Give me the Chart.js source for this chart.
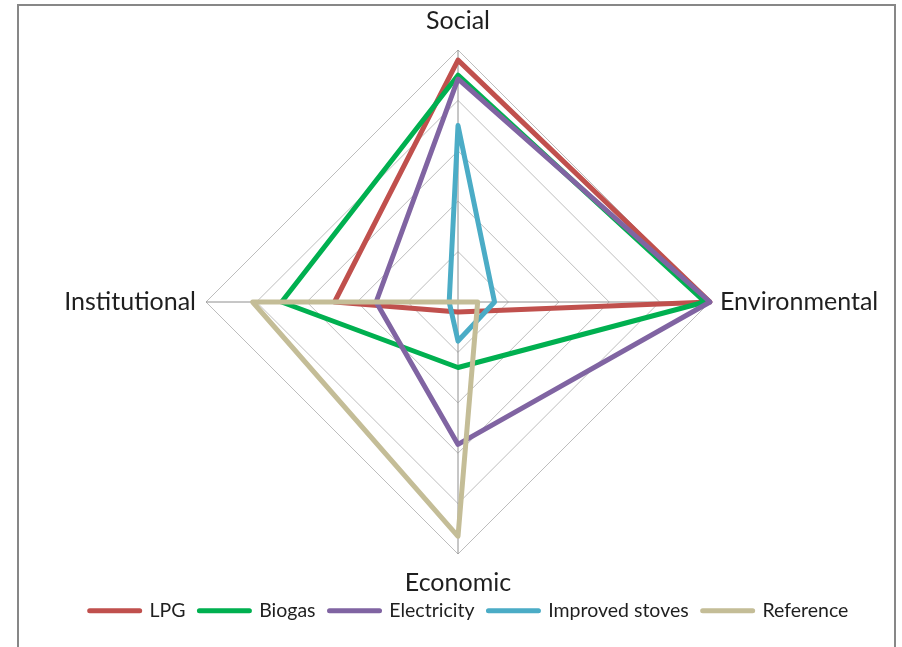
<!DOCTYPE html>
<html>
<head>
<meta charset="utf-8">
<script src="https://cdn.jsdelivr.net/npm/chart.js@4"></script>
<style>
	html, body { margin: 0; padding: 0; background: #fff; overflow: hidden; }
	#frame {
		position: absolute; left: 17px; top: 4px;
		width: 875px; height: 700px;
		border: 2px solid #878787;
	}
	#graph { position: absolute; left: 0; top: 0; }
</style>
</head>
<body>
<div id="frame"></div>
<canvas id="graph" width="902" height="647"></canvas>
<script>
// axes, clockwise from the top
const categories = ["Social", "Environmental", "Economic", "Institutional"];

const lpg = [0.96, 1.0, 0.04, 0.49];
const biogas = [0.90, 0.98, 0.26, 0.70];
const electricity = [0.885, 1.0, 0.565, 0.325];
const improvedStoves = [0.70, 0.145, 0.155, 0.035];
const reference = [0, 0.078, 0.93, 0.815];

const seriesNames = ["LPG", "Biogas", "Electricity", "Improved stoves", "Reference"];
const seriesData = [lpg, biogas, electricity, improvedStoves, reference];
const seriesColors = ["#C0504D", "#00B050", "#8064A2", "#4BACC6", "#C4BD97"];

new Chart(document.getElementById("graph"), {
	type: "radar",
	data: {
		labels: categories,
		datasets: seriesNames.map((name, i) => ({
			label: name,
			data: seriesData[i],
			borderColor: seriesColors[i],
			backgroundColor: seriesColors[i],
			borderWidth: 5,
			borderJoinStyle: "round",
			borderCapStyle: "round",
			pointRadius: 0,
			pointHoverRadius: 0,
			fill: false,
			// later series are drawn on top, as in the original
			order: seriesNames.length - i,
		})),
	},
	options: {
		responsive: false,
		animation: false,
		layout: {
			padding: { left: 36, right: 0, top: 17, bottom: 16.5 },
		},
		scales: {
			r: {
				min: 0,
				max: 1,
				ticks: { display: false, stepSize: 0.2 },
				grid: { color: "#bdbdbd", lineWidth: 1 },
				angleLines: { color: "#8e8e8e", lineWidth: 1 },
				pointLabels: {
					color: "#1f1f1f",
					font: { family: "Lato", size: 25, lineHeight: "8px" },
					padding: (ctx) => (ctx.index % 2 ? 10 : 25),
				},
			},
		},
		plugins: {
			tooltip: { enabled: false },
			legend: {
				position: "bottom",
				labels: {
					sort: (a, b) => a.datasetIndex - b.datasetIndex,
					boxWidth: 50,
					boxHeight: 0,
					padding: 14,
					color: "#1f1f1f",
					font: { family: "Lato", size: 19.5 },
				},
			},
		},
	},
});
</script>
</body>
</html>
